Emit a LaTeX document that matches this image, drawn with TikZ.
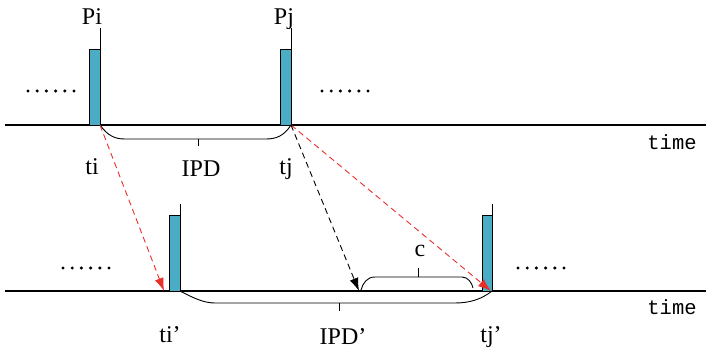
\documentclass[tikz,border=0pt]{standalone}
\usepackage{fontspec}
\setmainfont{Liberation Serif}
\newfontfamily\monof{Liberation Mono}
\usetikzlibrary{arrows.meta}
\definecolor{barblue}{HTML}{4BACC6}
\definecolor{arrred}{HTML}{E8302A}
\begin{document}
\begin{tikzpicture}[x=1pt,y=-1pt,
  axis/.style={line width=1.2pt,black},
  bar/.style={draw=black,line width=0.9pt,fill=barblue},
  stem/.style={line width=0.9pt},
  brace/.style={line width=0.9pt},
  lbl/.style={font=\fontsize{24}{24}\selectfont,inner sep=0pt,anchor=base},
  tlbl/.style={font=\monof\fontsize{20.5}{20.5}\selectfont,inner sep=0pt,anchor=base},
  redarr/.style={arrred,dashed,dash pattern=on 6pt off 4pt,line width=0.9pt,-{Latex[length=13pt,width=9pt]}},
  blkarr/.style={black,dashed,dash pattern=on 6pt off 4pt,line width=0.9pt,-{Latex[length=13pt,width=9pt]}},
  dot/.style={fill=black,circle,inner sep=0pt,minimum size=3.4pt}]
\useasboundingbox (0,0) rectangle (706,352);
% axes
\coordinate (a1s) at (5,125); \coordinate (a1e) at (706,125);
\coordinate (a2s) at (5,291); \coordinate (a2e) at (706,291);
\draw[axis] (a1s) -- (a1e);
\draw[axis] (a2s) -- (a2e);
% top bars
\draw[bar] (89,49) rectangle (100,125);
\draw[stem] (100,49) -- (100,28);
\draw[bar] (280,49) rectangle (291,125);
\draw[stem] (291,49) -- (291,28);
\coordinate (ti) at (100,125);
\coordinate (tj) at (291,125);
% bottom bars
\draw[bar] (169,215) rectangle (180,291);
\draw[stem] (180,215) -- (180,204);
\draw[bar] (482,215) rectangle (492,291);
\draw[stem] (492,215) -- (492,204);
\coordinate (tib) at (164,291);
\coordinate (tjb) at (491,291);
\coordinate (cb) at (359,291);
% labels
\node[lbl] (Pi) at (92,25) {Pi};
\node[lbl] (Pj) at (284,25) {Pj};
\node[lbl] (tiL) at (92,175) {ti};
\node[lbl] (tjL) at (286,175) {tj};
\node[lbl] (IPD) at (201,177) {IPD};
\node[lbl] (tibL) at (170,342) {ti’};
\node[lbl] (tjbL) at (491,342) {tj’};
\node[lbl] (IPDb) at (343,344) {IPD’};
\node[lbl] (cL) at (420,257) {c};
\node[tlbl] (time1) at (672,150) {time};
\node[tlbl] (time2) at (672,315) {time};
% dots
\foreach \x in {0,...,5} {
  \node[dot] (d1\x) at (28+9.2*\x,91) {};
  \node[dot] (d2\x) at (322+9.2*\x,91) {};
  \node[dot] (d3\x) at (63+9.2*\x,268) {};
  \node[dot] (d4\x) at (518+9.2*\x,268) {};
}
% top brace
\draw[brace] (ti) .. controls (108,136) and (115,139) .. (125,139) -- (266,139) .. controls (276,139) and (284,136) .. (tj);
\draw[brace] (198,139) -- (198,146);
% bottom brace
\draw[brace] (180,291) .. controls (195,299) and (205,303) .. (215,303) -- (455,303) .. controls (470,303) and (482,299) .. (492,291);
\draw[brace] (339,303) -- (339,311);
% c brace
\draw[brace] (361,290) .. controls (363,283) and (367,277) .. (375,277) -- (462,277) .. controls (468,277) and (472,283) .. (473,288);
\draw[brace] (418,277) -- (418,268);
% arrows
\draw[redarr] (ti) -- (tib);
\draw[redarr] (tj) -- (tjb);
\draw[blkarr] (tj) -- (cb);
\end{tikzpicture}
\end{document}
